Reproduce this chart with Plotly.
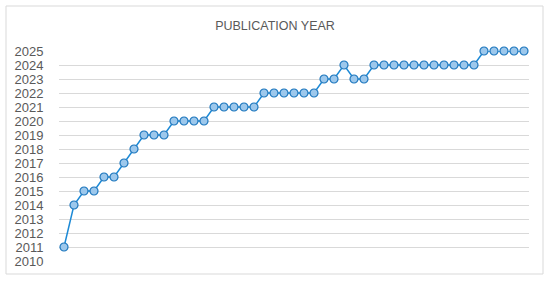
import plotly.graph_objects as go

years = [2011, 2014, 2015, 2015, 2016, 2016, 2017, 2018, 2019, 2019, 2019,
         2020, 2020, 2020, 2020,
         2021, 2021, 2021, 2021, 2021,
         2022, 2022, 2022, 2022, 2022, 2022,
         2023, 2023, 2024, 2023, 2023,
         2024, 2024, 2024, 2024, 2024, 2024, 2024, 2024, 2024, 2024, 2024,
         2025, 2025, 2025, 2025, 2025]
index = list(range(1, len(years) + 1))
tick_years = list(range(2010, 2026))

fig = go.Figure()
fig.add_trace(go.Scatter(
    x=index, y=years, mode="lines+markers",
    line=dict(color="#1D8AD6", width=1.5),
    marker=dict(symbol="circle", size=8, color="#9DC8EC",
                line=dict(color="#1F78BE", width=1.2)),
    cliponaxis=False,
    hoverinfo="skip", showlegend=False,
))

fig.update_layout(
    width=550, height=281,
    margin=dict(l=59, r=21, t=51, b=20),
    paper_bgcolor="white", plot_bgcolor="white",
    title=dict(text="PUBLICATION YEAR", x=0.5, xref="container", xanchor="center",
               y=1 - 26 / 281, yref="container", yanchor="middle",
               font=dict(family="Liberation Sans, Arial, sans-serif", size=12.5, color="#595959")),
    xaxis=dict(range=[0.5, len(years) + 0.5], showgrid=False, zeroline=False,
               showticklabels=False, showline=False, fixedrange=True),
    yaxis=dict(range=[2010, 2025], tickvals=tick_years, ticktext=[str(t) for t in tick_years],
               showgrid=True, gridcolor="#D9D9D9", gridwidth=1, zeroline=False,
               showline=False, ticks="outside", ticklen=12, tickcolor="rgba(0,0,0,0)",
               tickfont=dict(family="Liberation Sans, Arial, sans-serif", size=13, color="#595959")),
    shapes=[dict(type="rect", xref="paper", yref="paper",
                 x0=(6 - 59) / 470, x1=(543 - 59) / 470,
                 y0=-(274 - 261) / 210, y1=1 + (51 - 6) / 210,
                 line=dict(color="#D9D9D9", width=1), fillcolor="rgba(0,0,0,0)", layer="below")],
)
fig.update_yaxes(automargin=False)
fig.update_xaxes(automargin=False)

fig.write_html("out.html", config={"displayModeBar": False},
               post_script="document.body.style.margin='0';document.body.style.padding='0';")
